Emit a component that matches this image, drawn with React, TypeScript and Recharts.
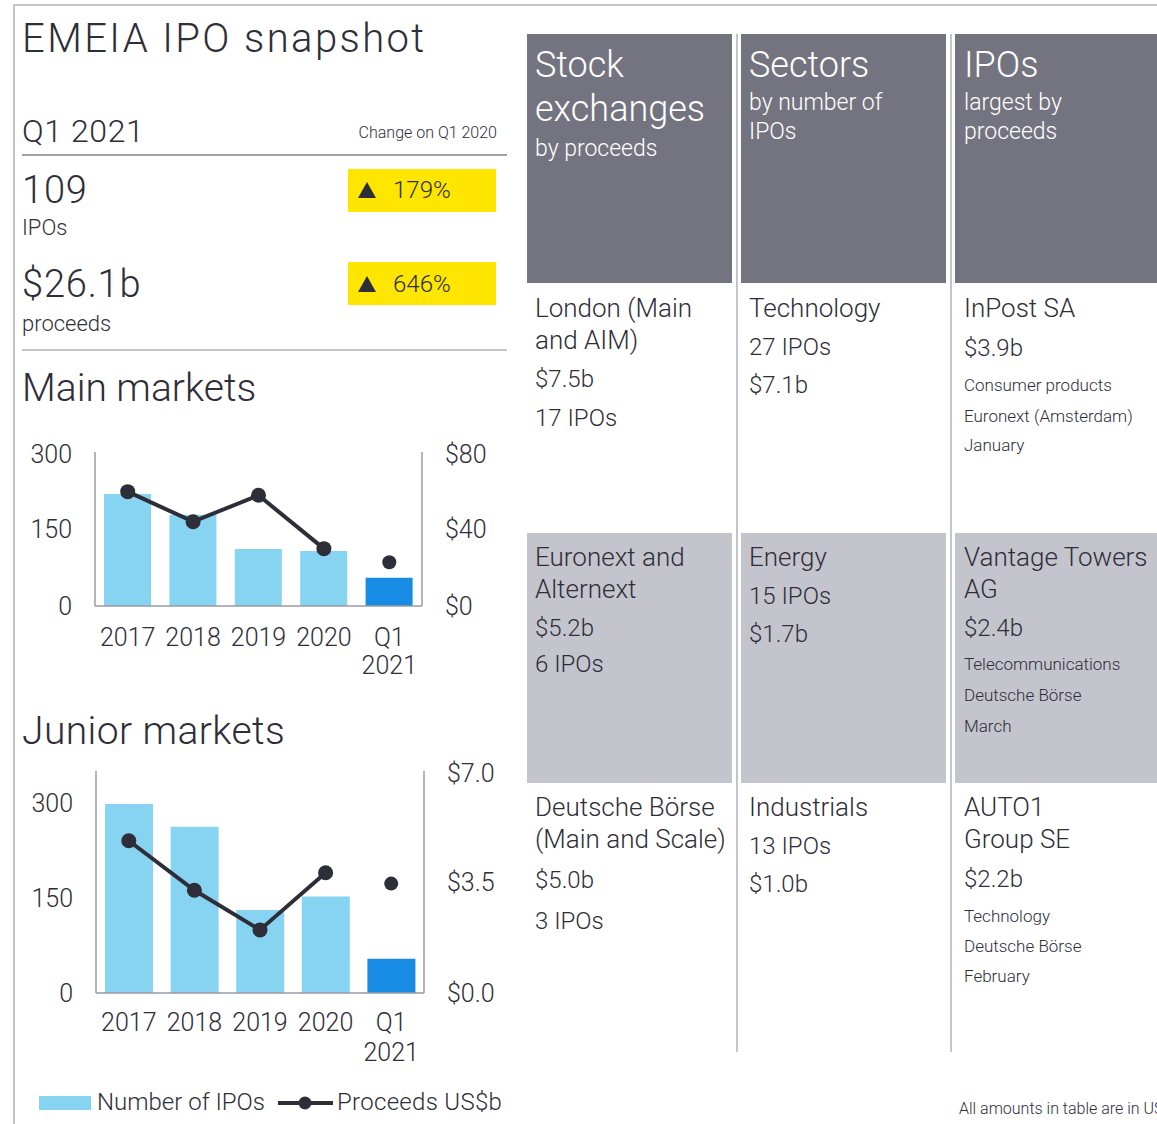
import React from 'react';
import { ComposedChart, Bar, Line, XAxis, YAxis, Cell } from 'recharts';

// ---------- data ----------
const categories = ['2017', '2018', '2019', '2020', 'Q1 2021'];
const mainIpoCounts = [218, 178, 111, 107, 55];
const mainProceeds = [59.4, 43.8, 57.5, 29.8, null];
const mainQ1Proceeds = [null, null, null, null, 22.7];
const juniorIpoCounts = [298, 262, 131, 152, 54];
const juniorProceeds = [4.8, 3.24, 1.99, 3.79, null];
const juniorQ1Proceeds = [null, null, null, null, 3.45];

const mainLeftTicks = [0, 150, 300];
const mainRightTicks = [0, 40, 80];
const juniorLeftTicks = [0, 150, 300];
const juniorRightTicks = [0, 3.5, 7];

const FONT = 'Roboto, "Noto Sans", sans-serif';
const TEXT = '#2e2e38';
const LIGHT_BLUE = '#87d3f2';
const DARK_BLUE = '#188ce5';
const AXIS = '#9a9aa3';
const DARK_GRAY = '#747480';
const LIGHT_GRAY = '#c4c4cd';
const YELLOW = '#ffe600';

const buildRows = (counts: number[], proceeds: (number | null)[], q1: (number | null)[]) =>
  categories.map((c, i) => ({ cat: c, ipos: counts[i], proceeds: proceeds[i], q1: q1[i] }));

const mainData = buildRows(mainIpoCounts, mainProceeds, mainQ1Proceeds);
const juniorData = buildRows(juniorIpoCounts, juniorProceeds, juniorQ1Proceeds);

// ---------- helpers ----------
const T = ({ x, y, size, color = TEXT, weight = 300, anchor = 'start', ls = 0, children }: any) => {
  const lh = Math.round(size * 1.2);
  const style: any = {
    position: 'absolute',
    top: y - lh / 2,
    lineHeight: lh + 'px',
    fontSize: size,
    fontFamily: FONT,
    fontWeight: weight,
    letterSpacing: ls,
    color,
    whiteSpace: 'nowrap',
  };
  if (anchor === 'end') style.right = 1157 - x;
  else style.left = x;
  return <div style={style}>{children}</div>;
};

const Box = ({ x, y, w, h, c }: any) => (
  <div style={{ position: 'absolute', left: x, top: y, width: w, height: h, background: c }} />
);

const XTick = ({ x, y, payload, gap }: any) => {
  const lines = String(payload.value).split(' ');
  return (
    <text x={x} y={y} textAnchor="middle" fill={TEXT} fontSize={25} fontFamily={FONT} fontWeight={300}>
      {lines.map((l, i) => (
        <tspan key={i} x={x} dy={i === 0 ? '0.71em' : gap}>
          {l}
        </tspan>
      ))}
    </text>
  );
};

const tickStyle = { fill: TEXT, fontSize: 25, fontFamily: FONT, fontWeight: 300 };

const X_AXIS_H = 84;

const ComboChart = ({ data, width, plotH, leftW, rightW, leftDomain, rightDomain, leftTicks, rightTicks, rightFmt, barSize, xMargin, gap }: any) => (
  <ComposedChart width={width} height={12 + plotH + X_AXIS_H} data={data} margin={{ top: 12, right: 0, bottom: 0, left: 0 }}>
    <XAxis
      dataKey="cat"
      height={X_AXIS_H}
      tickLine={false}
      tickSize={0}
      tickMargin={xMargin}
      axisLine={{ stroke: AXIS, strokeWidth: 1.5 }}
      interval={0}
      tick={<XTick gap={gap} />}
    />
    <YAxis
      yAxisId="left"
      orientation="left"
      width={leftW}
      domain={leftDomain}
      ticks={leftTicks}
      tickLine={false}
      tickSize={0}
      tickMargin={23}
      axisLine={{ stroke: AXIS, strokeWidth: 1.5 }}
      tick={tickStyle}
      allowDataOverflow
    />
    <YAxis
      yAxisId="right"
      orientation="right"
      width={rightW}
      domain={rightDomain}
      ticks={rightTicks}
      tickFormatter={rightFmt}
      tickLine={false}
      tickSize={0}
      tickMargin={23}
      axisLine={{ stroke: AXIS, strokeWidth: 1.5 }}
      tick={{ ...tickStyle, textAnchor: 'start' }}
      allowDataOverflow
    />
    <Bar yAxisId="left" dataKey="ipos" barSize={barSize} isAnimationActive={false}>
      {data.map((d: any, i: number) => (
        <Cell key={i} fill={i === data.length - 1 ? DARK_BLUE : LIGHT_BLUE} />
      ))}
    </Bar>
    <Line
      yAxisId="right"
      dataKey="proceeds"
      stroke={TEXT}
      strokeWidth={4}
      dot={{ r: 7.5, fill: TEXT, stroke: TEXT, strokeWidth: 0 }}
      connectNulls={false}
      isAnimationActive={false}
    />
    <Line
      yAxisId="right"
      dataKey="q1"
      stroke={TEXT}
      strokeWidth={0}
      dot={{ r: 7, fill: TEXT, stroke: TEXT, strokeWidth: 0 }}
      connectNulls={false}
      isAnimationActive={false}
    />
  </ComposedChart>
);

const Tri = ({ x, y }: any) => (
  <svg style={{ position: 'absolute', left: x, top: y }} width={18} height={16}>
    <polygon points="9,0 18,16 0,16" fill={TEXT} />
  </svg>
);

type Cell3 = { text: string; size: number; y: number };

const tableCols = [535, 749, 964];

const tableCells: Cell3[][] = [
  // row 1
  [
    { text: 'London (Main', size: 26, y: 308 },
    { text: 'and AIM)', size: 26, y: 340 },
    { text: '$7.5b', size: 24, y: 379 },
    { text: '17 IPOs', size: 24, y: 418 },
  ],
  [
    { text: 'Technology', size: 26, y: 308 },
    { text: '27 IPOs', size: 24, y: 347 },
    { text: '$7.1b', size: 24, y: 385 },
  ],
  [
    { text: 'InPost SA', size: 26, y: 308 },
    { text: '$3.9b', size: 24, y: 348 },
    { text: 'Consumer products', size: 17, y: 385 },
    { text: 'Euronext (Amsterdam)', size: 17, y: 416 },
    { text: 'January', size: 17, y: 445 },
  ],
  // row 2
  [
    { text: 'Euronext and', size: 26, y: 557 },
    { text: 'Alternext', size: 26, y: 589 },
    { text: '$5.2b', size: 24, y: 628 },
    { text: '6 IPOs', size: 24, y: 664 },
  ],
  [
    { text: 'Energy', size: 26, y: 557 },
    { text: '15 IPOs', size: 24, y: 596 },
    { text: '$1.7b', size: 24, y: 634 },
  ],
  [
    { text: 'Vantage Towers', size: 26, y: 557 },
    { text: 'AG', size: 26, y: 589 },
    { text: '$2.4b', size: 24, y: 628 },
    { text: 'Telecommunications', size: 17, y: 664 },
    { text: 'Deutsche Börse', size: 17, y: 695 },
    { text: 'March', size: 17, y: 726 },
  ],
  // row 3
  [
    { text: 'Deutsche Börse', size: 26, y: 807 },
    { text: '(Main and Scale)', size: 26, y: 839 },
    { text: '$5.0b', size: 24, y: 880 },
    { text: '3 IPOs', size: 24, y: 921 },
  ],
  [
    { text: 'Industrials', size: 26, y: 807 },
    { text: '13 IPOs', size: 24, y: 846 },
    { text: '$1.0b', size: 24, y: 884 },
  ],
  [
    { text: 'AUTO1', size: 26, y: 807 },
    { text: 'Group SE', size: 26, y: 839 },
    { text: '$2.2b', size: 24, y: 879 },
    { text: 'Technology', size: 17, y: 916 },
    { text: 'Deutsche Börse', size: 17, y: 946 },
    { text: 'February', size: 17, y: 976 },
  ],
];

export default function App() {
  return (
    <div
      style={{
        position: 'absolute',
        left: 0,
        top: 0,
        width: 1157,
        height: 1124,
        overflow: 'hidden',
        background: '#fff',
        fontFamily: FONT,
      }}
    >
      {/* outer border */}
      <Box x={14} y={4} w={1143} h={2} c={LIGHT_GRAY} />
      <Box x={13} y={4} w={2} h={1120} c={LIGHT_GRAY} />

      {/* left panel */}
      <T x={22} y={39} size={40} ls={2.4}>EMEIA IPO snapshot</T>
      <T x={22} y={131} size={32} ls={0.6}>Q1 2021</T>
      <T x={497} y={132} size={16} anchor="end">Change on Q1 2020</T>
      <Box x={22} y={154} w={485} h={2} c="#a0a0a8" />

      <T x={22} y={190} size={38} ls={0.8}>109</T>
      <T x={22} y={228} size={22}>IPOs</T>
      <Box x={348} y={169} w={148} h={43} c={YELLOW} />
      <Tri x={358} y={182} />
      <T x={393} y={190} size={24}>179%</T>

      <T x={22} y={284} size={38} ls={0.8}>$26.1b</T>
      <T x={22} y={324} size={22}>proceeds</T>
      <Box x={348} y={262} w={148} h={43} c={YELLOW} />
      <Tri x={358} y={276} />
      <T x={393} y={284} size={24}>646%</T>
      <Box x={22} y={349} w={485} h={2} c={LIGHT_GRAY} />

      <T x={22} y={388} size={39} ls={0}>Main markets</T>
      <div style={{ position: 'absolute', left: 0, top: 440 }}>
        <ComboChart
          data={mainData}
          width={500}
          plotH={154}
          leftW={95}
          rightW={78}
          leftDomain={[0, 300]}
          rightDomain={[0, 80]}
          leftTicks={mainLeftTicks}
          rightTicks={mainRightTicks}
          rightFmt={(v: number) => `$${v}`}
          barSize={47}
          xMargin={22}
          gap={28}
        />
      </div>

      <T x={22} y={731} size={39} ls={0.4}>Junior markets</T>
      <div style={{ position: 'absolute', left: 0, top: 759 }}>
        <ComboChart
          data={juniorData}
          width={500}
          plotH={222}
          leftW={96}
          rightW={76}
          leftDomain={[0, 350]}
          rightDomain={[0, 7]}
          leftTicks={juniorLeftTicks}
          rightTicks={juniorRightTicks}
          rightFmt={(v: number) => `$${v.toFixed(1)}`}
          barSize={48}
          xMargin={20}
          gap={30}
        />
      </div>

      {/* legend */}
      <Box x={39} y={1096} w={52} h={14} c={LIGHT_BLUE} />
      <T x={97} y={1102} size={24}>Number of IPOs</T>
      <svg style={{ position: 'absolute', left: 276, top: 1093 }} width={60} height={20}>
        <line x1={2} y1={10} x2={57} y2={10} stroke={TEXT} strokeWidth={4} />
        <circle cx={29} cy={10} r={6.5} fill={TEXT} />
      </svg>
      <T x={337} y={1102} size={24} ls={0.3}>Proceeds US$b</T>

      {/* right table */}
      <Box x={527} y={34} w={205} h={249} c={DARK_GRAY} />
      <Box x={741} y={34} w={205} h={249} c={DARK_GRAY} />
      <Box x={955} y={34} w={210} h={249} c={DARK_GRAY} />
      <Box x={527} y={533} w={205} h={250} c={LIGHT_GRAY} />
      <Box x={741} y={533} w={205} h={250} c={LIGHT_GRAY} />
      <Box x={955} y={533} w={210} h={250} c={LIGHT_GRAY} />
      <Box x={736} y={34} w={2} h={1018} c={LIGHT_GRAY} />
      <Box x={950} y={34} w={2} h={1018} c={LIGHT_GRAY} />

      <T x={535} y={65} size={36} color="#fff">Stock</T>
      <T x={535} y={109} size={36} color="#fff">exchanges</T>
      <T x={535} y={149} size={23} color="#fff">by proceeds</T>
      <T x={749} y={65} size={36} color="#fff">Sectors</T>
      <T x={749} y={103} size={23} color="#fff">by number of</T>
      <T x={749} y={132} size={23} color="#fff">IPOs</T>
      <T x={964} y={65} size={36} color="#fff">IPOs</T>
      <T x={964} y={103} size={23} color="#fff">largest by</T>
      <T x={964} y={132} size={23} color="#fff">proceeds</T>

      {tableCells.map((cell, idx) =>
        cell.map((line, j) => (
          <T key={idx + '-' + j} x={tableCols[idx % 3]} y={line.y} size={line.size}>
            {line.text}
          </T>
        ))
      )}

      <T x={959} y={1108} size={16}>All amounts in table are in US$</T>
    </div>
  );
}
